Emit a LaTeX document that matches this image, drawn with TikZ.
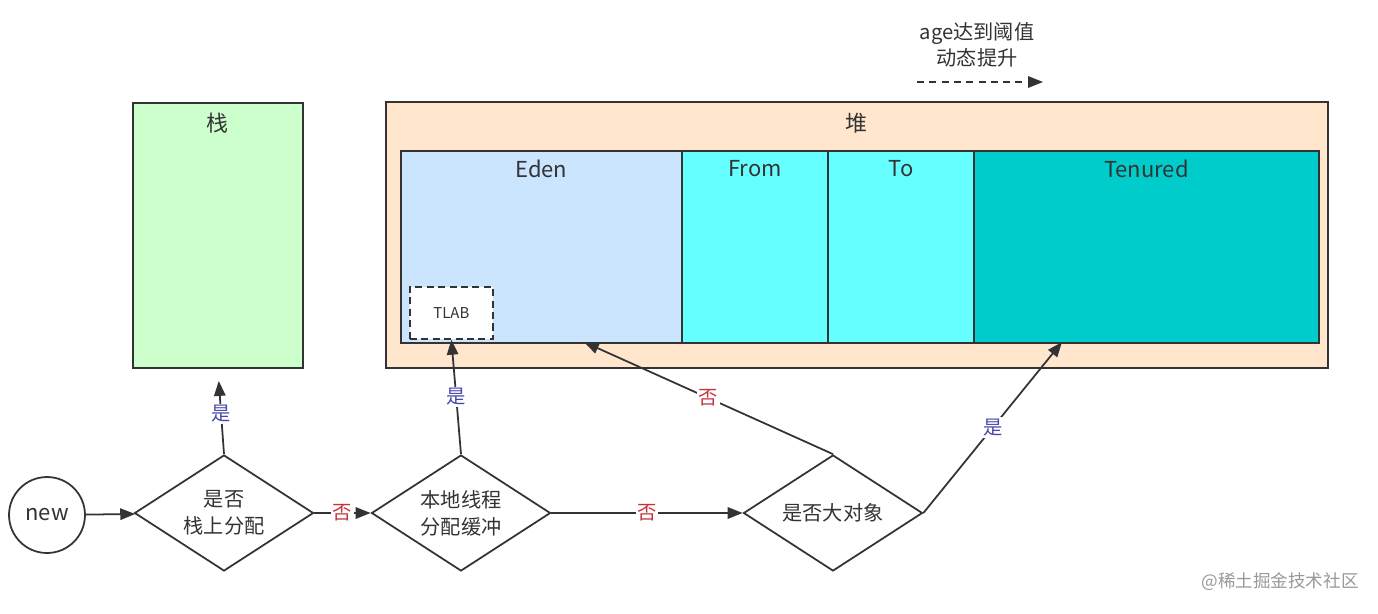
\documentclass[tikz,border=0pt]{standalone}
\usepackage{fontspec}
\setmainfont{Noto Sans CJK SC}
\usepackage{xcolor}
\usetikzlibrary{positioning, arrows.meta, shapes.geometric}
\definecolor{ink}{HTML}{333333}
\definecolor{stackgreen}{HTML}{CCFFCC}
\definecolor{heappeach}{HTML}{FFE6CC}
\definecolor{edenblue}{HTML}{CCE5FF}
\definecolor{survcyan}{HTML}{66FFFF}
\definecolor{oldcyan}{HTML}{00CCCC}
\definecolor{yescol}{RGB}{70,70,170}
\definecolor{nocol}{RGB}{200,50,60}
\tikzset{
area/.style={
  rectangle,
  draw=ink,
  line width=1pt,
  anchor=north west,
 },
boxtitle/.style={text=ink, font=\fontsize{12.5}{15}\selectfont},
flow/.style={draw=ink, line width=1pt, -{Triangle[length=8.5pt,width=6.5pt]}},
yes/.style={fill=white, text=yescol, inner sep=1pt, font=\fontsize{11}{13}\selectfont},
no/.style={fill=white, text=nocol, inner sep=1pt, font=\fontsize{11}{13}\selectfont}
}

\begin{document}
\begin{tikzpicture}[x=0.02cm, y=-0.02cm,
decision/.style={diamond, aspect=1.55, draw=ink, line width=1pt, inner sep=0pt, minimum width=3.58cm,
  minimum height=2.32cm, align=center, text=ink, font=\fontsize{11.5}{15.5}\selectfont},
start/.style={circle, draw=ink, line width=1pt, minimum size=1.52cm, text=ink,
  font=\fontsize{12.5}{14}\selectfont}]

 \useasboundingbox[fill=white] (0,0) rectangle (1378,613);

 \node[area, fill=stackgreen, minimum width=3.4cm, minimum height=5.3cm] (stack) at (132,102) {};
 \node[boxtitle] (stack-t) at ([yshift=-0.42cm]stack.north) {栈};
 \node[area, fill=heappeach, minimum width=18.84cm, minimum height=5.32cm] (heap) at (385,101) {};
 \node[boxtitle] (heap-t) at ([yshift=-0.44cm]heap.north) {堆};
 \foreach \n/\x/\w/\c/\t in {eden/400/5.62/edenblue/Eden, from/681/2.92/survcyan/From,
   to/827/2.92/survcyan/To, tenured/973/6.9/oldcyan/Tenured}
 {\node[area, fill=\c, minimum width=\w cm, minimum height=3.84cm] (\n) at (\x,150) {};
  \node[boxtitle] (\n-t) at ([yshift=-0.37cm]\n.north) {\t};}
 \node[area, fill=white, dash pattern=on 4pt off 2.5pt, minimum width=1.66cm, minimum height=1.04cm,
  text=ink, font=\fontsize{8.5}{10}\selectfont] (tlab) at (409,286) {};
 \node[text=ink, font=\fontsize{8.5}{10}\selectfont] (tlab-t) at (tlab.center) {TLAB};

 \node[start] (new) at (47,515) {new};
 \node[decision] (isstack) at (224,513) {是否\\栈上分配};
 \node[decision] (istlab) at (461,513) {本地线程\\分配缓冲};
 \node[decision] (isbig) at (833,513) {是否大对象};
 \coordinate (edenin) at (584,342);
 \coordinate (tenin) at (1062,342);

 \draw[flow] (new) -- (isstack);
 \draw[flow] (isstack) -- node[no] {否} (istlab);
 \draw[flow] (istlab) -- node[no] {否} (isbig);
 \draw[flow, shorten >=7pt] (isstack.north) -- node[yes, pos=0.47] {是} (stack.south);
 \draw[flow] (istlab.north) -- node[yes] {是} (tlab.south);
 \draw[flow] (isbig.north) -- node[no] {否} (edenin);
 \draw[flow] (isbig.east) -- node[yes] {是} (tenin);

 \node[align=center, text=ink, font=\fontsize{11.5}{14.5}\selectfont] (promote) at (977,45) {age达到阈值\\动态提升};
 \coordinate (promA) at (917,82);
 \coordinate (promB) at (1043,82);
 \draw[ink, line width=1pt, dash pattern=on 4pt off 3pt, -{Triangle[length=8.5pt,width=6.5pt]}] (promA) -- (promB);

 \node[text=black!40, font=\fontsize{10}{12}\selectfont] (mark) at (1280,582) {@稀土掘金技术社区};
\end{tikzpicture}
\end{document}
